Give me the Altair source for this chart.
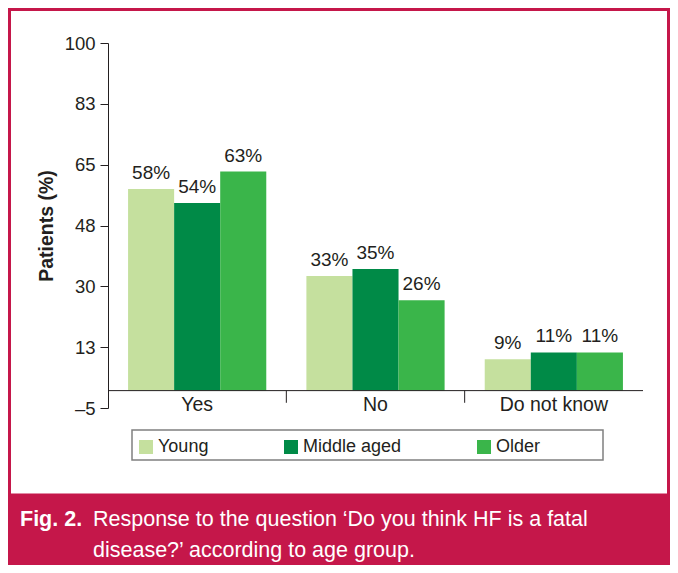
import altair as alt
import pandas as pd

# ---- data ----
categories = ["Yes", "No", "Do not know"]
groups = ["Young", "Middle aged", "Older"]
young = [58, 33, 9]
middle = [54, 35, 11]
older = [63, 26, 11]
colors = ["#c5e09e", "#008a47", "#3ab54a"]
y_ticks = [-5, 12.5, 30, 47.5, 65, 82.5, 100]
y_title = "Patients (%)"
caption_bold = "Fig. 2."
caption_line1 = "Response to the question \u2018Do you think HF is a fatal"
caption_line2 = "disease?\u2019 according to age group."

rows = []
for i, c in enumerate(categories):
    for g, vals in zip(groups, [young, middle, older]):
        rows.append({"category": c, "group": g, "value": vals[i]})
df = pd.DataFrame(rows)
cat_df = pd.DataFrame({"category": categories})
tick_df = pd.DataFrame({"category": categories[1:]})
one = pd.DataFrame({"k": [0]})

FONT = "Liberation Sans"
TXT = "#231f20"
AX = "#231f20"
CRIMSON = "#c5174a"
W, H = 535, 365

xscale = alt.Scale(domain=categories, paddingInner=0.225, paddingOuter=0.1125)
yscale = alt.Scale(domain=[-5, 100], nice=False, zero=False)
x_enc = alt.X("category:N", scale=xscale, axis=None, sort=categories)
xoff = alt.XOffset("group:N", sort=groups, scale=alt.Scale(domain=groups, paddingInner=0, paddingOuter=0))

bars = alt.Chart(df).mark_bar().encode(
    x=x_enc,
    xOffset=xoff,
    y=alt.Y(
        "value:Q",
        scale=yscale,
        axis=alt.Axis(
            values=y_ticks,
            labelExpr="datum.value < 0 ? '\u2013' + abs(datum.value) : '' + round(datum.value)",
            tickSize=8,
            labelPadding=5,
            labelFont=FONT,
            labelFontSize=18.5,
            labelColor=TXT,
            domainColor=AX,
            tickColor=AX,
            grid=False,
            title=y_title,
            titleFont=FONT,
            titleFontSize=19.5,
            titleFontWeight="bold",
            titleColor=TXT,
            titleAngle=270,
            titleX=-62,
            titleY=H / 2,
            titleAlign="center",
            titleBaseline="middle",
        ),
    ),
    y2=alt.datum(0),
    color=alt.Color(
        "group:N",
        sort=groups,
        scale=alt.Scale(domain=groups, range=colors),
        legend=alt.Legend(
            orient="none",
            legendX=29,
            legendY=395,
            direction="horizontal",
            title=None,
            symbolType="square",
            symbolSize=196,
            symbolStrokeWidth=0,
            symbolOpacity=1,
            labelFont=FONT,
            labelFontSize=18,
            labelColor=TXT,
            labelOffset=3,
            columnPadding=73,
            padding=0,
        ),
    ),
)

value_labels = alt.Chart(df).transform_calculate(
    label="datum.value + '%'"
).mark_text(font=FONT, fontSize=19, color=TXT, baseline="alphabetic", dy=-10).encode(
    x=x_enc,
    xOffset=xoff,
    y=alt.Y("value:Q", scale=yscale),
    text="label:N",
)

baseline = alt.Chart(one).mark_rule(color=AX, strokeWidth=1).encode(y=alt.datum(0))

sep_ticks = alt.Chart(tick_df).mark_rule(color=AX, strokeWidth=1, xOffset=-20.06).encode(
    x=alt.X("category:N", scale=xscale, axis=None, bandPosition=0),
    y=alt.datum(0),
    y2=alt.datum(-3.5),
)

cat_labels = alt.Chart(cat_df).mark_text(
    font=FONT, fontSize=19.5, color=TXT, baseline="middle", dy=14
).encode(x=x_enc, y=alt.datum(0), text="category:N")

legend_box = alt.Chart(one).mark_rect(filled=False, stroke="#808080", strokeWidth=1.5).encode(
    x=alt.value(24), x2=alt.value(495), y=alt.value(387), y2=alt.value(417)
)

frame = alt.Chart(one).mark_rect(filled=False, stroke=CRIMSON, strokeWidth=3).encode(
    x=alt.value(-98.5), x2=alt.value(560.5), y=alt.value(-33.5), y2=alt.value(452)
)
caption_bar = alt.Chart(one).mark_rect(color=CRIMSON, opacity=1).encode(
    x=alt.value(-100), x2=alt.value(562), y=alt.value(451), y2=alt.value(522)
)
cap_b = alt.Chart(one).mark_text(
    font=FONT, fontSize=21.5, fontWeight="bold", color="white", align="left", baseline="alphabetic"
).encode(x=alt.value(-88), y=alt.value(483), text=alt.value(caption_bold))
cap_1 = alt.Chart(one).mark_text(
    font=FONT, fontSize=21.5, color="white", align="left", baseline="alphabetic"
).encode(x=alt.value(-15), y=alt.value(483), text=alt.value(caption_line1))
cap_2 = alt.Chart(one).mark_text(
    font=FONT, fontSize=21.5, color="white", align="left", baseline="alphabetic"
).encode(x=alt.value(-15), y=alt.value(514), text=alt.value(caption_line2))

chart = alt.layer(
    frame, caption_bar, cap_b, cap_1, cap_2, legend_box,
    bars, value_labels, baseline, sep_ticks, cat_labels,
).properties(
    width=W,
    height=H,
    padding={"left": 100, "top": 35, "right": 27, "bottom": 157},
    autosize=alt.AutoSizeParams(type="none"),
    background="white",
).configure_view(stroke=None)

chart.save("out.html", embed_options={"renderer": "svg", "actions": False})
